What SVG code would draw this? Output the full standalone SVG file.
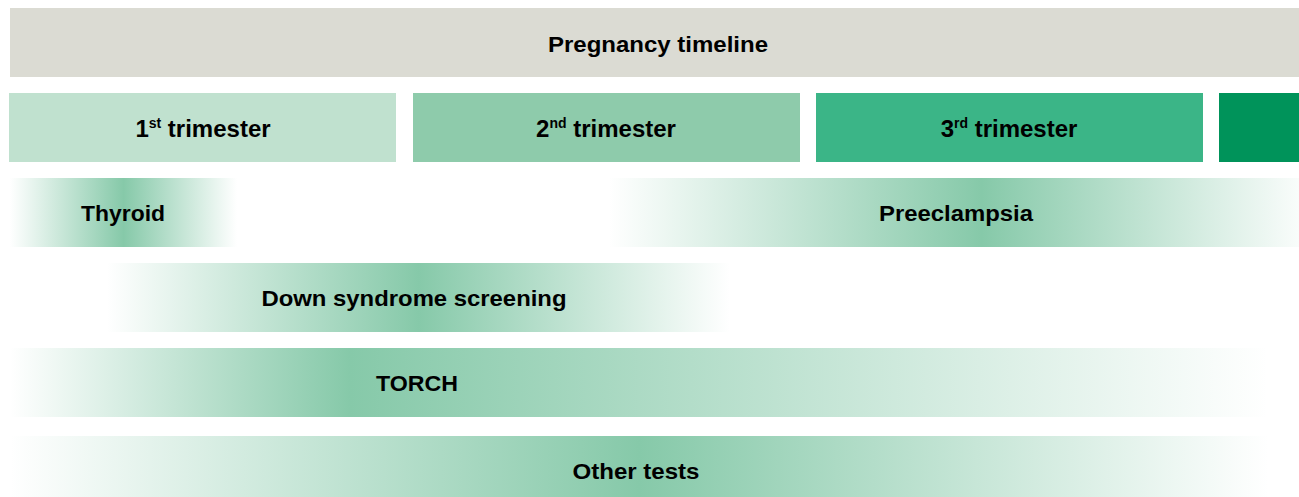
<svg xmlns="http://www.w3.org/2000/svg" width="1299" height="497" viewBox="0 0 1299 497">
<style>
text{font-family:"Liberation Sans",Arial,sans-serif;font-weight:bold;font-size:22px;fill:#000;text-anchor:middle}
.tri{font-size:24px}
.sup{font-size:14px}
</style>
<defs>
<linearGradient id="gThy" x1="0" x2="1" y1="0" y2="0">
<stop offset="0" stop-color="#86c9a9" stop-opacity="0"/><stop offset="0.5" stop-color="#86c9a9"/><stop offset="1" stop-color="#86c9a9" stop-opacity="0"/>
</linearGradient>
<linearGradient id="gPre" x1="0" x2="1" y1="0" y2="0">
<stop offset="0" stop-color="#86c9a9" stop-opacity="0"/><stop offset="0.54" stop-color="#86c9a9"/><stop offset="1" stop-color="#86c9a9" stop-opacity="0.05"/>
</linearGradient>
<linearGradient id="gDown" x1="0" x2="1" y1="0" y2="0">
<stop offset="0" stop-color="#86c9a9" stop-opacity="0"/><stop offset="0.5" stop-color="#86c9a9"/><stop offset="1" stop-color="#86c9a9" stop-opacity="0"/>
</linearGradient>
<linearGradient id="gTor" x1="0" x2="1" y1="0" y2="0">
<stop offset="0" stop-color="#86c9a9" stop-opacity="0"/><stop offset="0.27" stop-color="#86c9a9"/><stop offset="1" stop-color="#86c9a9" stop-opacity="0"/>
</linearGradient>
<linearGradient id="gOth" x1="0" x2="1" y1="0" y2="0">
<stop offset="0" stop-color="#86c9a9" stop-opacity="0"/><stop offset="0.5" stop-color="#86c9a9"/><stop offset="1" stop-color="#86c9a9" stop-opacity="0"/>
</linearGradient>
</defs>
<g id="title"><rect x="10" y="8" width="1289" height="69" fill="#dbdbd3"/><text x="658" y="52" textLength="220" lengthAdjust="spacingAndGlyphs">Pregnancy timeline</text></g>
<g id="tri1"><rect x="9" y="93" width="387" height="69" fill="#c0e1cf"/><text class="tri" x="203" y="137">1<tspan class="sup" dy="-9">st</tspan><tspan dy="9"> trimester</tspan></text></g>
<g id="tri2"><rect x="413" y="93" width="387" height="69" fill="#8ecbab"/><text class="tri" x="606" y="137">2<tspan class="sup" dy="-9">nd</tspan><tspan dy="9"> trimester</tspan></text></g>
<g id="tri3"><rect x="816" y="93" width="387" height="69" fill="#3bb587"/><text class="tri" x="1009" y="137">3<tspan class="sup" dy="-9">rd</tspan><tspan dy="9"> trimester</tspan></text></g>
<g id="tri4"><rect x="1219" y="93" width="80" height="69" fill="#00935a"/></g>
<g id="thyroid"><rect x="10" y="178" width="227" height="69" fill="url(#gThy)"/><text x="123" y="221" textLength="84" lengthAdjust="spacingAndGlyphs">Thyroid</text></g>
<g id="preeclampsia"><rect x="609" y="178" width="690" height="69" fill="url(#gPre)"/><text x="956" y="221" textLength="154" lengthAdjust="spacingAndGlyphs">Preeclampsia</text></g>
<g id="down"><rect x="107" y="263" width="623" height="69" fill="url(#gDown)"/><text x="414" y="306" textLength="305" lengthAdjust="spacingAndGlyphs">Down syndrome screening</text></g>
<g id="torch"><rect x="10" y="348" width="1258" height="69" fill="url(#gTor)"/><text x="417" y="391" textLength="82" lengthAdjust="spacingAndGlyphs">TORCH</text></g>
<g id="other"><rect x="10" y="436" width="1258" height="61" fill="url(#gOth)"/><text x="636" y="479" textLength="127" lengthAdjust="spacingAndGlyphs">Other tests</text></g>
<g id="connectors"/>
</svg>
